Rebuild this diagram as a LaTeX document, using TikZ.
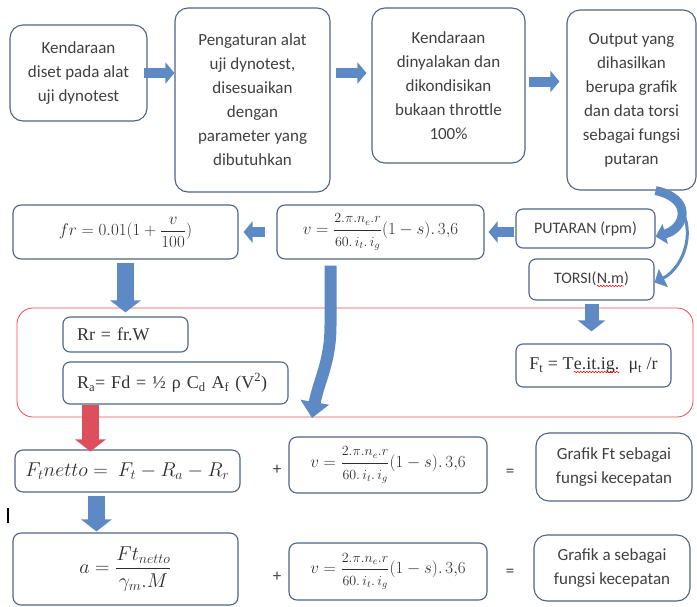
\RequirePackage{fix-cm}
\documentclass[tikz,border=0pt]{standalone}
\usepackage{amsmath}
\usepackage{fontspec}
\setmainfont{Carlito}
\newfontfamily\timesfont{Liberation Serif}
\usepackage{xcolor}
\usepackage{tikz}
\usetikzlibrary{positioning,arrows.meta,decorations.pathmorphing}
\definecolor{boxedge}{HTML}{4E6580}
\definecolor{textgray}{HTML}{404040}
\definecolor{eqgray}{HTML}{2E2E2E}
\definecolor{arrowblue}{HTML}{5D8AC4}
\definecolor{redline}{HTML}{F04A4A}
\definecolor{redarrow}{HTML}{DD4F5C}
\newcommand{\boxfont}{\fontsize{17}{24}\selectfont}
\newcommand{\smallboxfont}{\fontsize{16}{20}\selectfont}
\newcommand{\eqnfont}{\fontsize{17}{22}\selectfont}
\newcommand{\serfont}{\timesfont\fontsize{18}{22}\selectfont}
\newcommand{\fracpart}[1]{\mbox{\fontsize{14}{14}\selectfont$#1$}}
\newcommand{\speedeq}{$v=\dfrac{\fracpart{2.\pi.n_e.r}}{\fracpart{60.\,i_t.\,i_g}}(1-s).\,3{,}6$}
\newcommand{\spellmark}[1]{\tikz[baseline=(w.base)]{\node[draw=none, fill=none, inner sep=0pt, outer sep=0pt,
    minimum width=0pt, minimum height=0pt, rounded corners=0pt] (w) {#1};
    \draw[red, line width=0.5pt, rounded corners=0pt, decorate, decoration={snake, amplitude=0.8pt, segment length=3pt}]
    ([yshift=-2.5pt]w.base west) -- ([yshift=-2.5pt]w.base east);}}

\begin{document}
\begin{tikzpicture}[
    x=1pt, y=1pt,
    box/.style = {
        rectangle,
        draw=boxedge,
        line width=1.1pt,
        rounded corners=13pt,
        align=center,
        text=textgray,
        font=\boxfont,
        inner sep=2pt
    },
    eqbox/.style  = {box, rounded corners=8pt, font=\eqnfont, text=eqgray},
    tagbox/.style = {box, rounded corners=7pt, font=\smallboxfont},
    serbox/.style = {box, rounded corners=7pt, font=\serfont, text=black!80, inner xsep=14pt},
    resistbox/.style = {rectangle, draw=redline, line width=0.8pt, rounded corners=16pt},
    opsign/.style = {font=\eqnfont, text=textgray},
    harrow/.style = {draw=arrowblue, line width=10pt, -{Triangle[length=9pt, width=21pt]}},
    varrow/.style = {draw=arrowblue, line width=17pt, -{Triangle[length=12pt, width=30pt]}},
    curvearrow/.style = {draw=arrowblue, -{Triangle[length=10pt, width=20pt]}}
]
\useasboundingbox (0,0) rectangle (697,-606);

% top row
\node[box, minimum width=137, minimum height=96] (setdyno) at (78.5,-73)
    {Kendaraan\\diset pada alat\\uji dynotest};
\node[box, minimum width=155, minimum height=184] (setting) at (252.5,-100)
    {Pengaturan alat\\uji dynotest,\\disesuaikan\\dengan\\parameter yang\\dibutuhkan};
\node[box, minimum width=153, minimum height=155] (engine) at (448.5,-85.5)
    {Kendaraan\\dinyalakan dan\\dikondisikan\\bukaan throttle\\100\%};
\node[box, minimum width=129, minimum height=180] (output) at (631.5,-100)
    {Output yang\\dihasilkan\\berupa grafik\\dan data torsi\\sebagai fungsi\\putaran};

% second row
\node[eqbox, minimum width=225, minimum height=54] (roll) at (125.5,-232)
    {$fr = 0.01(1+\dfrac{v}{100})$};
\node[eqbox, minimum width=207, minimum height=54] (speed) at (380.5,-232) {\speedeq};
\node[tagbox, minimum width=139, minimum height=39] (rpm) at (585.5,-228.5) {PUTARAN (rpm)};
\node[tagbox, minimum width=125, minimum height=41] (torque) at (591.5,-279.5) {TORSI(\spellmark{N.m})};

% resistance group
\node[resistbox, minimum width=676, minimum height=109] (resist) at (355,-362.5) {};
\node[serbox, minimum width=125, minimum height=35, text width=97, align=left] (rollres) at (125.5,-334.5)
    {Rr = fr.W};
\node[serbox, minimum width=225, minimum height=42, text width=197, align=left] (airres) at (175.5,-383)
    {R\textsubscript{a}= Fd = ½ ρ C\textsubscript{d} A\textsubscript{f} (V\textsuperscript{2})};
\node[serbox, inner xsep=2pt, minimum width=155, minimum height=43] (tractive) at (593.5,-365.5)
    {F\textsubscript{t} = T\spellmark{e.it.ig.}\ \ μ\textsubscript{t} /r};

% bottom rows
\node[eqbox, font=\fontsize{20}{24}\selectfont, minimum width=225, minimum height=42] (netto) at (127.5,-471)
    {$F_t netto = \ F_t - R_a - R_r$};
\node[opsign] (plusa) at (277,-470) {+};
\node[eqbox, minimum width=198, minimum height=56] (speedb) at (388,-465) {\speedeq};
\node[opsign] (eqa) at (510,-473) {=};
\node[box, minimum width=156, minimum height=68] (graphft) at (614,-467)
    {Grafik Ft sebagai\\fungsi kecepatan};

\node[eqbox, font=\fontsize{20}{24}\selectfont, minimum width=225, minimum height=72] (accel) at (125.5,-569)
    {$a=\dfrac{Ft_{netto}}{\gamma_m.M}$};
\node[opsign] (plusb) at (277,-577) {+};
\node[eqbox, minimum width=198, minimum height=57] (speedc) at (388,-571.5) {\speedeq};
\node[opsign] (eqb) at (510,-573) {=};
\node[box, minimum width=156, minimum height=66] (grapha) at (612,-568)
    {Grafik a sebagai\\fungsi kecepatan};

% arrows
\draw[harrow, shorten <=-4pt] (setdyno.east) -- (setdyno.east -| setting.west);
\draw[harrow, shorten <=5pt, shorten >=5pt] (setting.east |- setdyno.east) -- (engine.west |- setdyno.east);
\draw[harrow, shorten <=3pt, shorten >=7pt] ([yshift=4]engine.east) -- ([yshift=4]engine.east -| output.west);
\draw[harrow, shorten <=1pt, shorten >=4pt] (rpm.west |- speed.east) -- (speed.east);
\draw[harrow, shorten <=11pt, shorten >=5pt] (speed.west) -- (roll.east);

\draw[varrow, shorten <=3pt, shorten >=4pt] (roll.south) -- (rollres.north);
\draw[varrow, line width=14pt, -{Triangle[length=11pt, width=27pt]}, shorten <=3pt, shorten >=12pt]
    (torque.south) -- (torque.south |- tractive.north);

\coordinate (redtop) at ([xshift=28]airres.south west);
\draw[varrow, draw=redarrow, shorten >=-2pt] (redtop) -- (redtop |- netto.north);
\coordinate (nettoout) at ([xshift=82]netto.south west);
\draw[varrow, shorten <=3pt, shorten >=1pt] (nettoout) -- (nettoout |- accel.north);

\coordinate (jtop) at ([xshift=-50, yshift=-6]speed.south);
\coordinate (jtip) at (312,-418);
\draw[varrow, line width=12pt, -{Triangle[length=16pt, width=28pt]}]
    (jtop) -- ++(0,-60) to[out=-90, in=80] (jtip);

\coordinate (outfoot) at (rpm.east |- output.south);
\draw[curvearrow, line width=9pt] (outfoot) .. controls +(38,-8) and +(30,8) .. ([yshift=-8]rpm.east);
\draw[curvearrow, line width=3pt] ([xshift=10]outfoot) .. controls +(38,-30) and +(30,15) .. ([yshift=-3]torque.east);

% cursor mark
\draw[line width=2.5pt] (8,-508) -- (8,-523);

\end{tikzpicture}
\end{document}
